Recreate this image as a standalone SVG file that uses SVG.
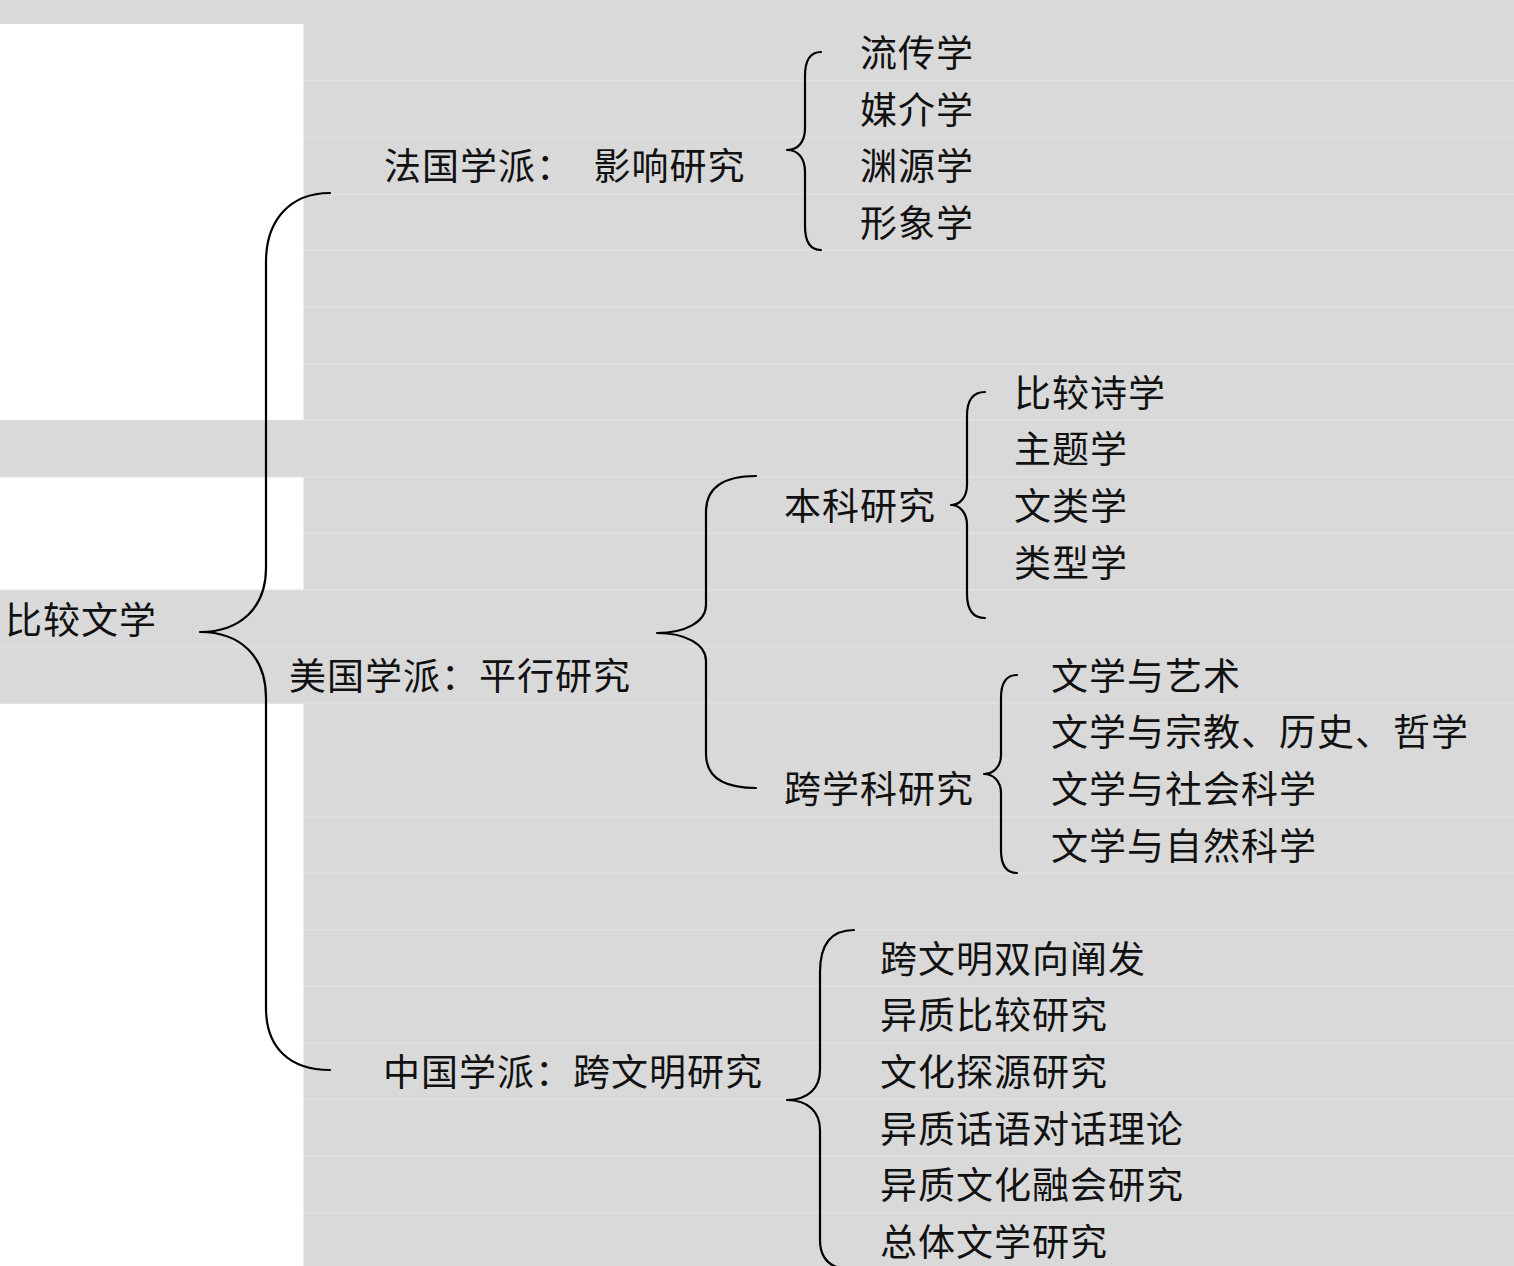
<svg xmlns="http://www.w3.org/2000/svg" width="1514" height="1266" viewBox="0 0 1514 1266">
<style>
.t{font-family:"Liberation Serif","Noto Sans CJK SC",serif;font-size:37px;letter-spacing:1px;fill:#111;dominant-baseline:central}
.b{fill:none;stroke:#000;stroke-width:2.2;stroke-linecap:round;stroke-linejoin:round}
.rl{stroke:#e1e1e1;stroke-width:1.3}
</style>
<g id="background">
<rect x="0" y="0" width="1514" height="1266" fill="#d9d9d9"/>
<g class="rl">
<line x1="0" y1="80.6" x2="1514" y2="80.6"/>
<line x1="0" y1="137.2" x2="1514" y2="137.2"/>
<line x1="0" y1="193.8" x2="1514" y2="193.8"/>
<line x1="0" y1="250.4" x2="1514" y2="250.4"/>
<line x1="0" y1="307" x2="1514" y2="307"/>
<line x1="0" y1="363.6" x2="1514" y2="363.6"/>
<line x1="0" y1="420.2" x2="1514" y2="420.2"/>
<line x1="0" y1="476.8" x2="1514" y2="476.8"/>
<line x1="0" y1="533.4" x2="1514" y2="533.4"/>
<line x1="0" y1="590" x2="1514" y2="590"/>
<line x1="0" y1="646.6" x2="1514" y2="646.6"/>
<line x1="0" y1="703.2" x2="1514" y2="703.2"/>
<line x1="0" y1="759.8" x2="1514" y2="759.8"/>
<line x1="0" y1="816.4" x2="1514" y2="816.4"/>
<line x1="0" y1="873" x2="1514" y2="873"/>
<line x1="0" y1="929.6" x2="1514" y2="929.6"/>
<line x1="0" y1="986.2" x2="1514" y2="986.2"/>
<line x1="0" y1="1042.8" x2="1514" y2="1042.8"/>
<line x1="0" y1="1099.4" x2="1514" y2="1099.4"/>
<line x1="0" y1="1156" x2="1514" y2="1156"/>
<line x1="0" y1="1212.6" x2="1514" y2="1212.6"/>
</g>
<rect x="0" y="24" width="303.5" height="396" fill="#fff"/>
<rect x="0" y="477.5" width="303.5" height="112" fill="#fff"/>
<rect x="0" y="703.8" width="303.5" height="563" fill="#fff"/>
</g>
<g id="connectors">
<path class="b" d="M 330 193 C 290 193, 266 220, 266 262 L 266 568 C 266 608, 240 632, 200 632 C 240 632, 266 656, 266 698 L 266 1008 C 266 1048, 290 1070, 330 1070"/>
<path class="b" d="M 821 52 C 809 52, 805 62, 805 76 L 805 128 C 805 142, 798 150, 787 150 C 798 150, 805 158, 805 172 L 805 226 C 805 240, 809 250, 821 250"/>
<path class="b" d="M 756 476 C 722 476, 706 488, 706 512 L 706 605 C 706 622, 685 633, 657 633 C 685 633, 706 644, 706 661 L 706 754 C 706 776, 722 788, 756 788"/>
<path class="b" d="M 985 392 C 972 392, 967 402, 967 416 L 967 485 C 967 497, 960 505, 951 505 C 960 505, 967 513, 967 525 L 967 594 C 967 608, 972 618, 985 618"/>
<path class="b" d="M 1017 675 C 1006 675, 1001 684, 1001 698 L 1001 755 C 1001 767, 993 774, 984 774 C 993 774, 1001 781, 1001 793 L 1001 850 C 1001 864, 1006 873, 1017 873"/>
<path class="b" d="M 854 930 C 830 930, 820 946, 820 972 L 820 1070 C 820 1088, 808 1100, 787 1100 C 808 1100, 820 1112, 820 1130 L 820 1240 C 820 1258, 830 1270, 855 1270"/>
</g>
<g id="n-root"><text class="t" x="5" y="621">比较文学</text></g>
<g id="n-france"><text class="t" x="384" y="167">法国学派：　影响研究</text></g>
<g id="n-fr1"><text class="t" x="860" y="54">流传学</text></g>
<g id="n-fr2"><text class="t" x="860" y="111">媒介学</text></g>
<g id="n-fr3"><text class="t" x="860" y="167">渊源学</text></g>
<g id="n-fr4"><text class="t" x="860" y="224">形象学</text></g>
<g id="n-usa"><text class="t" x="289" y="677">美国学派：平行研究</text></g>
<g id="n-benke"><text class="t" x="784" y="507">本科研究</text></g>
<g id="n-bk1"><text class="t" x="1014" y="394">比较诗学</text></g>
<g id="n-bk2"><text class="t" x="1014" y="450">主题学</text></g>
<g id="n-bk3"><text class="t" x="1014" y="507">文类学</text></g>
<g id="n-bk4"><text class="t" x="1014" y="564">类型学</text></g>
<g id="n-kxk"><text class="t" x="784" y="790">跨学科研究</text></g>
<g id="n-kx1"><text class="t" x="1051" y="677">文学与艺术</text></g>
<g id="n-kx2"><text class="t" x="1051" y="733">文学与宗教、历史、哲学</text></g>
<g id="n-kx3"><text class="t" x="1051" y="790">文学与社会科学</text></g>
<g id="n-kx4"><text class="t" x="1051" y="847">文学与自然科学</text></g>
<g id="n-china"><text class="t" x="383" y="1073">中国学派：跨文明研究</text></g>
<g id="n-cn1"><text class="t" x="880" y="960">跨文明双向阐发</text></g>
<g id="n-cn2"><text class="t" x="880" y="1016">异质比较研究</text></g>
<g id="n-cn3"><text class="t" x="880" y="1073">文化探源研究</text></g>
<g id="n-cn4"><text class="t" x="880" y="1130">异质话语对话理论</text></g>
<g id="n-cn5"><text class="t" x="880" y="1186">异质文化融会研究</text></g>
<g id="n-cn6"><text class="t" x="880" y="1243">总体文学研究</text></g>
</svg>
